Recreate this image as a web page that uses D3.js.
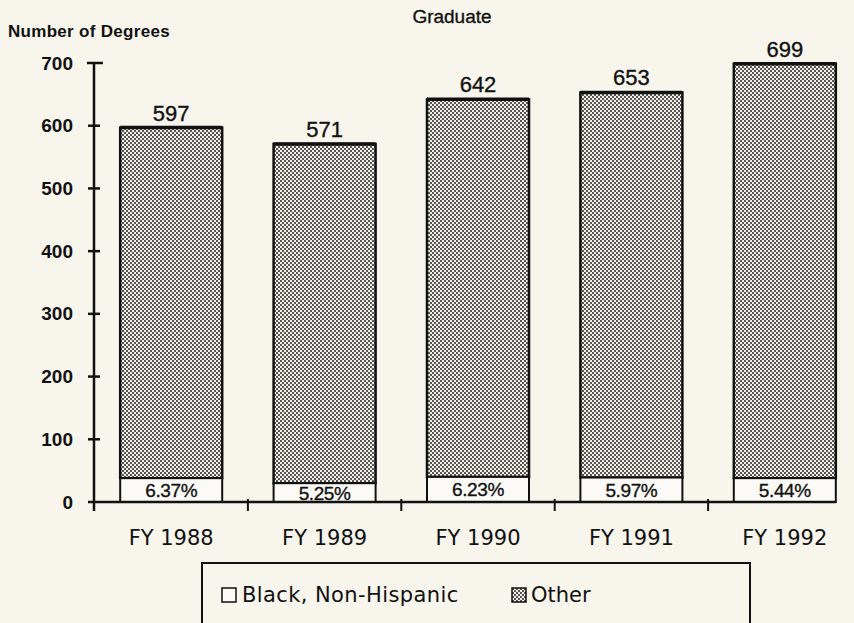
<!DOCTYPE html>
<html>
<head>
<meta charset="utf-8">
<script src="https://cdn.jsdelivr.net/npm/d3@7"></script>
<style>
  html, body { margin: 0; padding: 0; background: #f8f5ec; }
  svg { display: block; }
  text { font-family: "Liberation Sans", Arial, sans-serif; fill: #111; }
  .wide { font-family: "DejaVu Sans", Verdana, sans-serif; }
  .heavy { stroke: #111; stroke-width: 0.35px; }
</style>
</head>
<body>
<svg id="chart" width="854" height="623"></svg>
<script>
// Graduate degrees by fiscal year
const years = ["FY 1988", "FY 1989", "FY 1990", "FY 1991", "FY 1992"];
const totals = [597, 571, 642, 653, 699];
const blackShareLabels = ["6.37%", "5.25%", "6.23%", "5.97%", "5.44%"];
const blackShares = [6.37, 5.25, 6.23, 5.97, 5.44];
const yTicks = [0, 100, 200, 300, 400, 500, 600, 700];
const legendLabels = ["Black, Non-Hispanic", "Other"];

const rows = years.map((y, i) => {
  const black = Math.round(totals[i] * blackShares[i] / 100);
  return { year: y, total: totals[i], black, other: totals[i] - black, label: blackShareLabels[i] };
});

const svg = d3.select("#chart");
const ink = "#111";

// dotted screen used for the "Other" segment
const defs = svg.append("defs");
const pat = defs.append("pattern")
  .attr("id", "dots").attr("patternUnits", "userSpaceOnUse")
  .attr("width", 4).attr("height", 4);
pat.append("rect").attr("width", 4).attr("height", 4).attr("fill", "#f2efe8");
pat.append("circle").attr("cx", 1).attr("cy", 1).attr("r", 1.0).attr("fill", "#222");
pat.append("circle").attr("cx", 3).attr("cy", 3).attr("r", 1.0).attr("fill", "#222");

const x = d3.scaleBand().domain(years).range([94.5, 861.5]).paddingInner(0.335).paddingOuter(0.1675);
const y = d3.scaleLinear().domain([0, 700]).range([502, 63]);

// title and axis caption
svg.append("text").attr("class", "heavy").attr("x", 452).attr("y", 23).attr("text-anchor", "middle")
  .style("font-size", "19px").text("Graduate");
svg.append("text").attr("x", 8).attr("y", 37)
  .style("font-size", "17px").style("font-weight", "bold").style("letter-spacing", "0.3px")
  .text("Number of Degrees");

// y axis
const yAxis = d3.axisLeft(y).tickValues(yTicks).tickSize(0).tickPadding(21);
const gy = svg.append("g").attr("transform", "translate(94,0)").call(yAxis);
gy.select(".domain").remove();
gy.selectAll("text").style("font-size", "19px").style("font-weight", "bold")
  .style("font-family", "'Liberation Sans', Arial, sans-serif").attr("fill", ink);
svg.append("line").attr("x1", 94).attr("x2", 94).attr("y1", y(700)).attr("y2", y(0) + 9)
  .attr("stroke", ink).attr("stroke-width", 2.5);
svg.selectAll(".ytick").data(yTicks.filter(d => d > 0)).join("line")
  .attr("x1", d => d === 700 ? 87 : 88).attr("x2", d => d === 700 ? 103 : 100)
  .attr("y1", d => y(d)).attr("y2", d => y(d))
  .attr("stroke", ink).attr("stroke-width", 2.5);

// bars
const bars = svg.append("g").selectAll("g").data(rows).join("g");
bars.append("rect")
  .attr("x", d => x(d.year)).attr("width", x.bandwidth())
  .attr("y", d => y(d.total)).attr("height", d => y(d.black) - y(d.total))
  .attr("fill", "url(#dots)").attr("stroke", ink).attr("stroke-width", 2.5);
bars.append("line")
  .attr("x1", d => x(d.year)).attr("x2", d => x(d.year) + x.bandwidth())
  .attr("y1", d => y(d.total)).attr("y2", d => y(d.total))
  .attr("stroke", ink).attr("stroke-width", 3.5);
bars.append("rect")
  .attr("x", d => x(d.year)).attr("width", x.bandwidth())
  .attr("y", d => y(d.black)).attr("height", d => y(0) - y(d.black))
  .attr("fill", "#fbfaf6").attr("stroke", ink).attr("stroke-width", 2);
bars.append("text").attr("class", "heavy")
  .attr("x", d => x(d.year) + x.bandwidth() / 2).attr("y", d => y(d.total) - 7)
  .attr("text-anchor", "middle").style("font-size", "22px")
  .text(d => d.total);
bars.append("text").attr("class", "heavy")
  .attr("x", d => x(d.year) + x.bandwidth() / 2).attr("y", d => (y(d.black) + y(0)) / 2 + 7)
  .attr("text-anchor", "middle").style("font-size", "19px").style("letter-spacing", "-0.4px")
  .text(d => d.label);

// x axis
svg.append("line").attr("x1", 88).attr("x2", x(years[4]) + x.bandwidth())
  .attr("y1", y(0)).attr("y2", y(0)).attr("stroke", ink).attr("stroke-width", 2.5);
const bounds = years.slice(1).map(d => x(d) - x.step() * x.paddingInner() / 2);
svg.selectAll(".xtick").data(bounds).join("line")
  .attr("x1", d => d).attr("x2", d => d).attr("y1", y(0) - 3).attr("y2", y(0) + 9)
  .attr("stroke", ink).attr("stroke-width", 2);
svg.selectAll(".xlab").data(years).join("text")
  .attr("class", "wide")
  .attr("x", d => x(d) + x.bandwidth() / 2).attr("y", 545)
  .attr("text-anchor", "middle").style("font-size", "21px")
  .text(d => d);

// legend
const lg = svg.append("g");
lg.append("rect").attr("x", 202).attr("y", 563).attr("width", 548).attr("height", 80)
  .attr("fill", "none").attr("stroke", ink).attr("stroke-width", 2);
lg.append("rect").attr("x", 222).attr("y", 588).attr("width", 14).attr("height", 14)
  .attr("fill", "#fbfaf6").attr("stroke", ink).attr("stroke-width", 1.5);
lg.append("text").attr("class", "wide").attr("x", 242).attr("y", 602).style("font-size", "21px")
  .style("letter-spacing", "0.4px").text(legendLabels[0]);
lg.append("rect").attr("x", 512).attr("y", 588).attr("width", 14).attr("height", 14)
  .attr("fill", "url(#dots)").attr("stroke", ink).attr("stroke-width", 1.5);
lg.append("text").attr("class", "wide").attr("x", 531).attr("y", 602).style("font-size", "21px")
  .text(legendLabels[1]);
</script>
</body>
</html>
